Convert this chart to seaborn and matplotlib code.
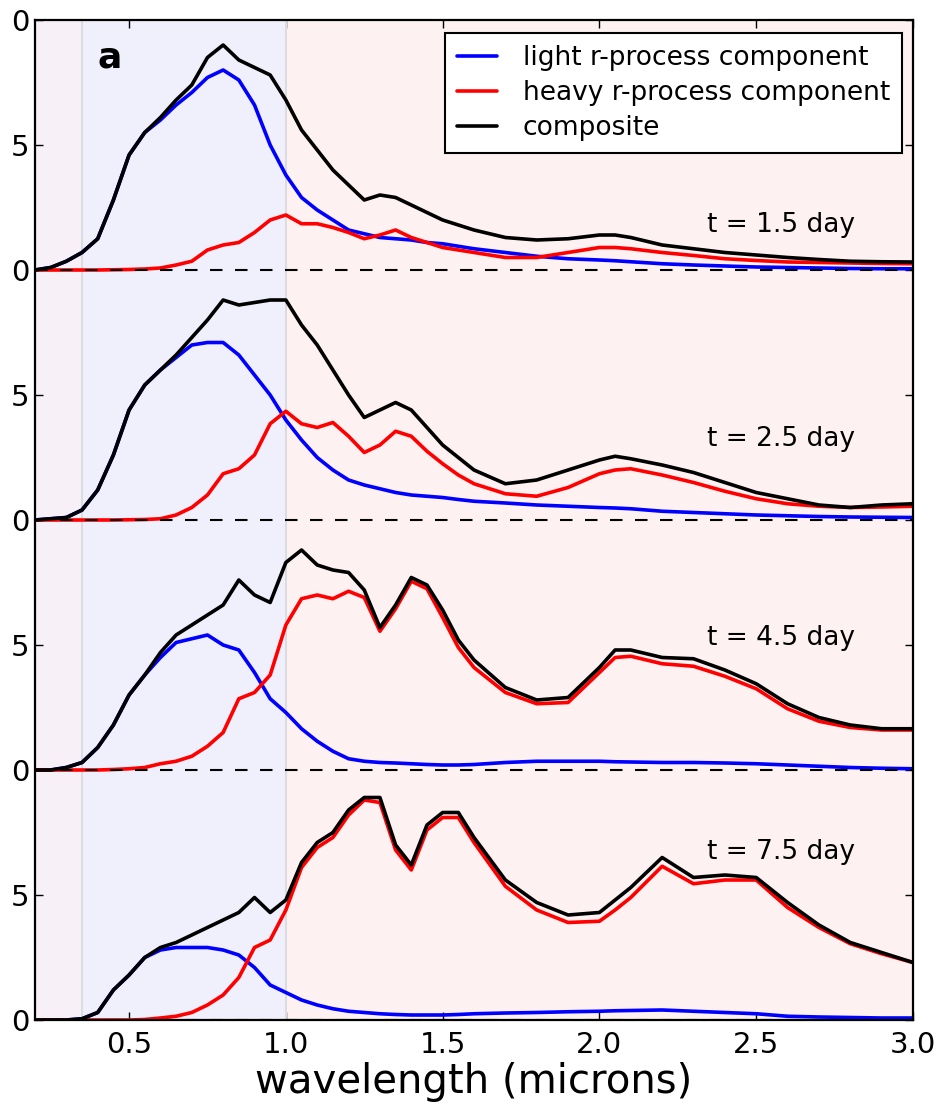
import matplotlib
matplotlib.use("Agg")
import matplotlib.pyplot as plt
from matplotlib.lines import Line2D
from matplotlib.ticker import FuncFormatter
import seaborn as sns
import pandas as pd

# wavelength grid (microns) shared by all spectra
wavelength = [0.2, 0.25, 0.3, 0.35, 0.4, 0.45, 0.5, 0.55, 0.6, 0.65, 0.7, 0.75, 0.8, 0.85,
              0.9, 0.95, 1.0, 1.05, 1.1, 1.15, 1.2, 1.25, 1.3, 1.35, 1.4, 1.45, 1.5, 1.55,
              1.6, 1.7, 1.8, 1.9, 2.0, 2.05, 2.1, 2.2, 2.3, 2.4, 2.5, 2.6, 2.7, 2.8, 2.9, 3.0]

epochs = ["1.5", "2.5", "4.5", "7.5"]

# t = 1.5 day
light_15 = [0, 0.1, 0.35, 0.7, 1.25, 2.8, 4.6, 5.5, 6.0, 6.6, 7.1, 7.7, 8.0, 7.6, 6.6, 5.0,
            3.8, 2.9, 2.4, 2.0, 1.6, 1.45, 1.3, 1.25, 1.2, 1.1, 1.05, 0.95, 0.85, 0.7, 0.55,
            0.45, 0.4, 0.37, 0.33, 0.25, 0.2, 0.16, 0.12, 0.1, 0.08, 0.06, 0.05, 0.05]
heavy_15 = [0, 0, 0, 0, 0, 0.01, 0.02, 0.04, 0.08, 0.2, 0.35, 0.8, 1.0, 1.1, 1.5, 2.0,
            2.2, 1.85, 1.85, 1.7, 1.5, 1.25, 1.4, 1.6, 1.3, 1.1, 0.9, 0.8, 0.7, 0.5, 0.5,
            0.7, 0.9, 0.9, 0.85, 0.7, 0.58, 0.45, 0.38, 0.32, 0.3, 0.28, 0.26, 0.25]
comp_15 = [0, 0.1, 0.35, 0.7, 1.25, 2.8, 4.6, 5.5, 6.1, 6.8, 7.4, 8.5, 9.0, 8.4, 8.1, 7.8,
           6.8, 5.6, 4.8, 4.0, 3.4, 2.8, 3.0, 2.9, 2.6, 2.3, 2.0, 1.8, 1.6, 1.3, 1.2,
           1.25, 1.4, 1.4, 1.3, 1.0, 0.85, 0.7, 0.6, 0.5, 0.42, 0.35, 0.33, 0.32]

# t = 2.5 day
light_25 = [0, 0.05, 0.1, 0.4, 1.2, 2.6, 4.4, 5.4, 6.0, 6.5, 7.0, 7.1, 7.1, 6.6, 5.8, 5.0,
            4.0, 3.2, 2.5, 2.0, 1.6, 1.4, 1.25, 1.1, 1.0, 0.95, 0.9, 0.82, 0.75, 0.68, 0.6,
            0.55, 0.5, 0.48, 0.45, 0.35, 0.3, 0.25, 0.2, 0.17, 0.14, 0.12, 0.11, 0.1]
heavy_25 = [0, 0, 0, 0, 0, 0, 0.01, 0.02, 0.05, 0.2, 0.5, 1.0, 1.85, 2.05, 2.6, 3.85,
            4.35, 3.85, 3.7, 3.9, 3.35, 2.7, 3.0, 3.55, 3.35, 2.75, 2.25, 1.8, 1.45, 1.05, 0.95,
            1.3, 1.85, 2.0, 2.05, 1.8, 1.5, 1.15, 0.85, 0.65, 0.55, 0.5, 0.52, 0.55]
comp_25 = [0, 0.05, 0.1, 0.4, 1.2, 2.6, 4.4, 5.4, 6.0, 6.6, 7.3, 8.0, 8.8, 8.6, 8.7, 8.8,
           8.8, 7.8, 7.0, 6.0, 5.0, 4.1, 4.4, 4.7, 4.4, 3.7, 3.0, 2.5, 2.0, 1.45, 1.6,
           2.0, 2.4, 2.55, 2.45, 2.2, 1.9, 1.5, 1.1, 0.85, 0.6, 0.5, 0.6, 0.65]

# t = 4.5 day
light_45 = [0, 0, 0.1, 0.3, 0.9, 1.8, 3.0, 3.8, 4.5, 5.1, 5.25, 5.4, 5.0, 4.8, 3.9, 2.85,
            2.3, 1.65, 1.15, 0.75, 0.45, 0.35, 0.3, 0.28, 0.25, 0.22, 0.2, 0.2, 0.22, 0.3, 0.35,
            0.35, 0.35, 0.33, 0.32, 0.3, 0.3, 0.28, 0.25, 0.2, 0.15, 0.1, 0.07, 0.05]
heavy_45 = [0, 0, 0, 0, 0, 0.02, 0.05, 0.1, 0.25, 0.35, 0.55, 0.95, 1.5, 2.85, 3.1, 3.8,
            5.8, 6.85, 7.0, 6.85, 7.15, 6.9, 5.55, 6.45, 7.55, 7.25, 6.1, 4.9, 4.1, 3.1, 2.65,
            2.7, 3.9, 4.5, 4.55, 4.25, 4.15, 3.75, 3.25, 2.45, 1.95, 1.7, 1.6, 1.6]
comp_45 = [0, 0, 0.1, 0.3, 0.9, 1.8, 3.0, 3.8, 4.7, 5.4, 5.8, 6.2, 6.6, 7.6, 7.0, 6.7,
           8.3, 8.8, 8.2, 8.0, 7.9, 7.2, 5.7, 6.6, 7.7, 7.4, 6.4, 5.2, 4.4, 3.3, 2.8,
           2.9, 4.1, 4.8, 4.8, 4.5, 4.45, 4.0, 3.45, 2.65, 2.1, 1.8, 1.65, 1.65]

# t = 7.5 day
light_75 = [0, 0, 0, 0.05, 0.3, 1.2, 1.8, 2.5, 2.8, 2.9, 2.9, 2.9, 2.8, 2.6, 2.1, 1.4,
            1.1, 0.8, 0.6, 0.45, 0.35, 0.3, 0.25, 0.22, 0.2, 0.2, 0.2, 0.22, 0.25, 0.28, 0.3,
            0.33, 0.35, 0.37, 0.38, 0.4, 0.35, 0.3, 0.25, 0.15, 0.12, 0.1, 0.08, 0.08]
heavy_75 = [0, 0, 0, 0, 0, 0, 0, 0.02, 0.08, 0.15, 0.3, 0.6, 1.0, 1.7, 2.9, 3.2,
            4.4, 6.1, 6.9, 7.3, 8.2, 8.8, 8.7, 6.8, 6.0, 7.6, 8.1, 8.1, 7.1, 5.35, 4.4,
            3.9, 3.95, 4.4, 4.9, 6.15, 5.45, 5.6, 5.6, 4.5, 3.7, 3.05, 2.65, 2.3]
comp_75 = [0, 0, 0, 0.05, 0.3, 1.2, 1.8, 2.5, 2.9, 3.1, 3.4, 3.7, 4.0, 4.3, 4.9, 4.3,
           4.8, 6.3, 7.1, 7.5, 8.4, 8.9, 8.9, 7.0, 6.2, 7.8, 8.3, 8.3, 7.3, 5.6, 4.7,
           4.2, 4.3, 4.8, 5.3, 6.5, 5.7, 5.8, 5.7, 4.7, 3.8, 3.1, 2.7, 2.3]

light = [light_15, light_25, light_45, light_75]
heavy = [heavy_15, heavy_25, heavy_45, heavy_75]
comp = [comp_15, comp_25, comp_45, comp_75]

names = ["light r-process component", "heavy r-process component", "composite"]
colors = {names[0]: "blue", names[1]: "red", names[2]: "black"}

sns.set_theme(style="ticks")
plt.rcParams["font.family"] = ["DejaVu Sans"]
plt.rcParams.update({"text.color": "black", "axes.labelcolor": "black",
                     "xtick.color": "black", "ytick.color": "black"})

fig = plt.figure(figsize=(9.45, 11.1), dpi=100)
ax = fig.add_axes([35 / 945, 1 - 1020 / 1110, 878 / 945, 1000 / 1110])

# shaded wavelength bands
ax.axvspan(0.2, 0.35, color="#f7f1f7", zorder=0, lw=0)
ax.axvspan(0.35, 1.0, color="#f0f0fd", zorder=0, lw=0)
ax.axvspan(1.0, 3.0, color="#fef1f1", zorder=0, lw=0)
ax.axvline(0.35, color="#dcdce0", lw=1.5, zorder=1)
ax.axvline(1.0, color="#dcdce0", lw=1.5, zorder=1)

text_y = [1.5, 2.96, 5.0, 6.44]
for i, ep in enumerate(epochs):
    off = 10 * (3 - i)
    df = pd.DataFrame({
        "wavelength": wavelength * 3,
        "flux": [v + off for v in light[i] + heavy[i] + comp[i]],
        "component": [names[0]] * len(wavelength) + [names[1]] * len(wavelength) + [names[2]] * len(wavelength),
    })
    sns.lineplot(data=df, x="wavelength", y="flux", hue="component", hue_order=names,
                 palette=colors, linewidth=2.6, legend=False, sort=False, errorbar=None,
                 ax=ax, zorder=3, solid_joinstyle="round")
    ax.axhline(off, color="black", lw=1.5, dashes=(6, 6), zorder=5)
    ax.text(2.815, off + text_y[i], f"t = {ep} day", ha="right", va="baseline", fontsize=19)

ax.text(0.398, 38.1, "a", fontsize=26, fontweight="bold", va="baseline")

ax.set_xlim(0.2, 3.0)
ax.set_ylim(0, 40)
ax.set_xticks([0.5, 1.0, 1.5, 2.0, 2.5, 3.0])
ax.set_yticks(range(0, 41, 5))
ax.xaxis.set_major_formatter(FuncFormatter(lambda v, p: f"{v:.1f}"))
ax.yaxis.set_major_formatter(FuncFormatter(lambda v, p: f"{int(round(v)) % 10}"))
ax.tick_params(direction="in", top=True, right=True, length=6, width=1, labelsize=21, color="black")
ax.tick_params(axis="x", pad=8)
ax.tick_params(axis="y", pad=4)
for s in ax.spines.values():
    s.set_linewidth(1.6)
    s.set_color("black")
    s.set_zorder(6)

ax.set_xlabel("wavelength (microns)", fontsize=29, labelpad=2)
ax.set_ylabel("")

handles = [Line2D([], [], color=colors[n], lw=2.6) for n in names]
leg = ax.legend(handles, names, loc="upper right", bbox_to_anchor=(0.9875, 0.987),
                borderaxespad=0, fontsize=19, frameon=True, fancybox=False,
                edgecolor="black", facecolor="white", framealpha=1,
                handlelength=1.5, handletextpad=1.0, borderpad=0.45, labelspacing=0.35)
leg.get_frame().set_linewidth(1.5)
leg.set_zorder(7)

fig.savefig("out.png", dpi=100)
